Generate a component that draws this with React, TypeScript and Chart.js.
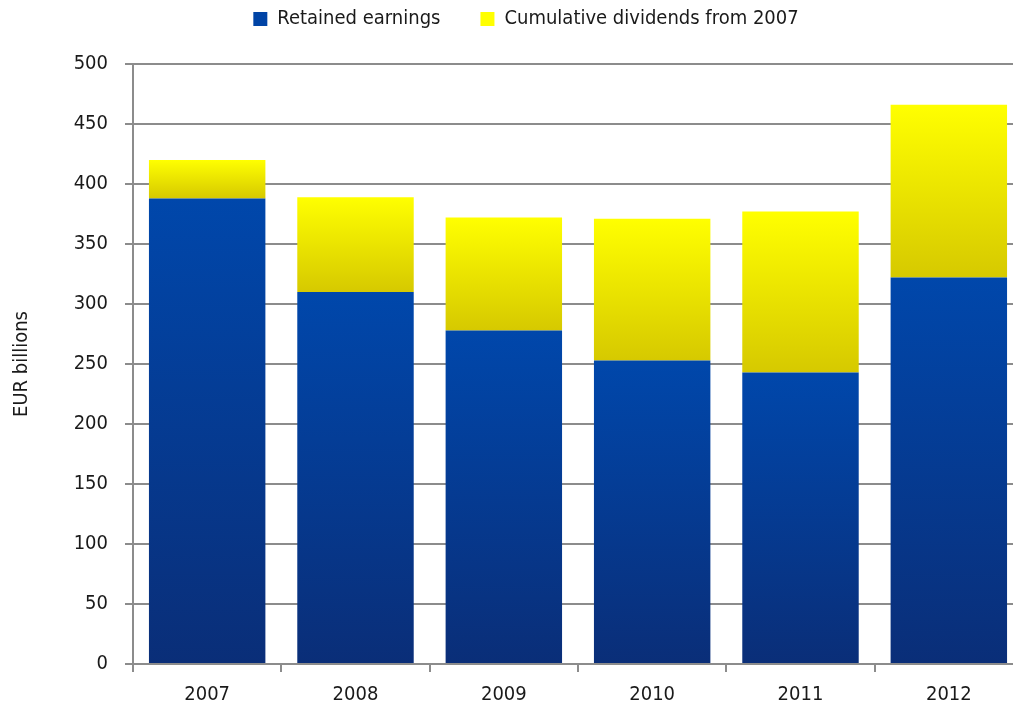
import React, { useEffect, useRef } from "react";
import { Chart, registerables } from "chart.js";

Chart.register(...registerables);

const categories = ["2007", "2008", "2009", "2010", "2011", "2012"];
const retainedEarnings = [388, 310, 278, 253, 243, 322];
const cumulativeDividends = [32, 79, 94, 118, 134, 144];
const yTicks = [0, 50, 100, 150, 200, 250, 300, 350, 400, 450, 500];

const FONT = "'Liberation Sans Narrow', 'DejaVu Sans Condensed', 'Arial Narrow', sans-serif";
const GRID = "#8c8c8c";
const TEXT = "#1a1a1a";

export default function App() {
  const ref = useRef<HTMLCanvasElement>(null);

  useEffect(() => {
    if (!ref.current) return;
    const grad = (chart: any, from: number, to: number, bottom: string, top: string) => {
      const y = chart.scales?.y;
      if (!chart.chartArea || !y) return top;
      const g = chart.ctx.createLinearGradient(0, y.getPixelForValue(from), 0, y.getPixelForValue(to));
      g.addColorStop(0, bottom);
      g.addColorStop(1, top);
      return g;
    };

    const legendPatch = {
      id: "legendPatch",
      beforeUpdate(chart: any) {
        const lg = chart.legend;
        if (!lg || lg.__patched) return;
        lg.__patched = true;
        const fit = lg.fit.bind(lg);
        lg.fit = function () {
          fit();
          this.height = 64;
        };
        const draw = lg.draw.bind(lg);
        lg.draw = function () {
          chart.ctx.save();
          chart.ctx.translate(0, -31);
          draw();
          chart.ctx.restore();
        };
      },
    };

    const chart = new Chart(ref.current, {
      type: "bar",
      data: {
        labels: categories,
        datasets: [
          {
            label: "Retained earnings",
            data: retainedEarnings,
            backgroundColor: (ctx: any) =>
              ctx.type === "data"
                ? grad(ctx.chart, 0, retainedEarnings[ctx.dataIndex], "#0a2e78", "#0047ab")
                : "#0047ab",
            borderWidth: 0,
          },
          {
            label: "Cumulative dividends from 2007",
            data: cumulativeDividends,
            backgroundColor: (ctx: any) =>
              ctx.type === "data"
                ? grad(
                    ctx.chart,
                    retainedEarnings[ctx.dataIndex],
                    retainedEarnings[ctx.dataIndex] + cumulativeDividends[ctx.dataIndex],
                    "#d6c900",
                    "#ffff00"
                  )
                : "#ffff00",
            borderWidth: 0,
          },
        ],
      },
      options: {
        responsive: false,
        animation: false,
        devicePixelRatio: 1,
        layout: { padding: { left: 29, right: 17, top: 0, bottom: 0 } },
        datasets: { bar: { categoryPercentage: 1, barPercentage: 0.785 } },
        plugins: {
          tooltip: { enabled: false },
          legend: {
            position: "top",
            labels: {
              boxWidth: 14,
              boxHeight: 14,
              padding: 40,
              color: TEXT,
              font: { family: FONT, size: 20 },
              generateLabels: (c: any) =>
                c.data.datasets.map((d: any, i: number) => ({
                  text: d.label,
                  fillStyle: i === 0 ? "#0044a6" : "#ffff00",
                  strokeStyle: "transparent",
                  lineWidth: 0,
                  datasetIndex: i,
                  fontColor: TEXT,
                  hidden: false,
                })),
            },
          },
        },
        scales: {
          x: {
            stacked: true,
            afterFit: (s: any) => {
              s.height = 47;
            },
            grid: {
              display: true,
              drawOnChartArea: false,
              offset: true,
              tickLength: 8,
              color: GRID,
              lineWidth: 2,
            },
            border: { color: GRID, width: 2 },
            ticks: { color: TEXT, padding: 11, font: { family: FONT, size: 20 } },
          },
          y: {
            stacked: true,
            min: 0,
            max: 500,
            afterBuildTicks: (s: any) => {
              s.ticks = yTicks.map((v) => ({ value: v }));
            },
            afterFit: (s: any) => {
              s.width = 104;
            },
            grid: { color: GRID, lineWidth: 2, tickLength: 8 },
            border: { color: GRID, width: 2 },
            ticks: { color: TEXT, padding: 17, font: { family: FONT, size: 20 } },
            title: {
              display: true,
              text: "EUR billions",
              color: TEXT,
              padding: { top: -19, bottom: 0 },
              font: { family: FONT, size: 20 },
            },
          },
        },
      },
      plugins: [legendPatch],
    } as any);
    return () => chart.destroy();
  }, []);

  return (
    <div style={{ position: "absolute", left: 0, top: 0, width: 1013, height: 711, overflow: "hidden", background: "#fff" }}>
      <canvas ref={ref} width={1040} height={711} style={{ display: "block" }} />
    </div>
  );
}
